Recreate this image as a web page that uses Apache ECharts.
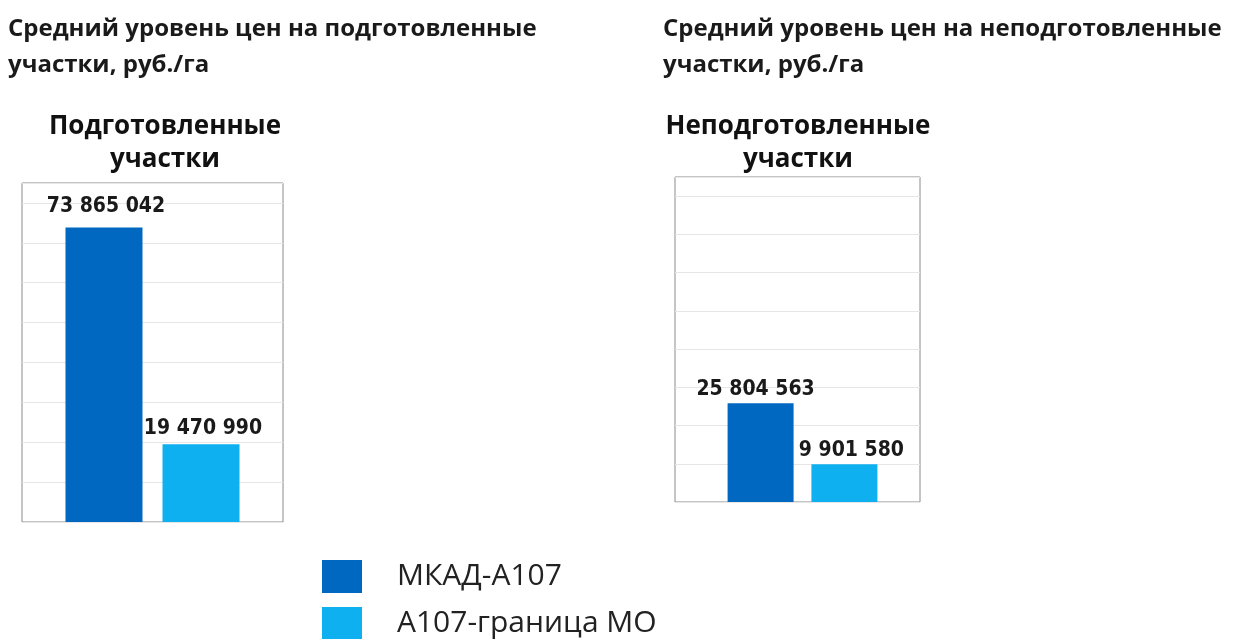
<!DOCTYPE html>
<html>
<head>
<meta charset="utf-8">
<script src="https://cdn.jsdelivr.net/npm/echarts@6/dist/echarts.min.js"></script>
<style>
html,body{margin:0;padding:0;background:#fff;}
#chart{width:1242px;height:639px;}
</style>
</head>
<body>
<div id="chart"></div>
<script>
// ---- data ----
const titleLeft = 'Средний уровень цен на подготовленные\nучастки, руб./га';
const titleRight = 'Средний уровень цен на неподготовленные\nучастки, руб./га';
const panelNames = ['Подготовленные\nучастки', 'Неподготовленные\nучастки'];
const seriesNames = ['МКАД-А107', 'А107-граница МО'];
const prepared = [73865042, 19470990];      // [МКАД-А107, А107-граница МО]
const unprepared = [25804563, 9901580];     // [МКАД-А107, А107-граница МО]
const axisMax = 85000000;
const axisStep = 10000000;

const colors = ['#0068c0', '#0fb0f0'];
const fmt = v => String(Math.round(v)).replace(/\B(?=(\d{3})+(?!\d))/g, ' ');

const chart = echarts.init(document.getElementById('chart'));
const labelFont = {
  show: true, position: 'top', distance: 5,
  fontFamily: '"DejaVu Sans Condensed", sans-serif',
  fontWeight: 'bold', fontSize: 21, color: '#1a1a1a',
  formatter: p => fmt(p.value)
};
function yAx(i, grid) {
  return {
    gridIndex: i, type: 'value', min: 0, max: axisMax, interval: axisStep,
    axisLabel: {show: false}, axisLine: {show: false}, axisTick: {show: false},
    splitLine: {show: grid, lineStyle: {color: '#e6e6e6', width: 1}}
  };
}
function xAx(i) {
  return {
    gridIndex: i, type: 'category', data: [''],
    axisLabel: {show: false}, axisLine: {show: false}, axisTick: {show: false}
  };
}
const sets = [prepared, unprepared];
const barW = [77, 66];
const gaps = ['26%', '27%'];
const labelTweaks = [
  [{distance: 10, offset: [2, 0]}, {distance: 5, offset: [2, 0]}],
  [{distance: 3, offset: [-5, 0]}, {distance: 3, offset: [7, 0]}]
];
const series = [];
sets.forEach((vals, gi) => {
  vals.forEach((v, si) => {
    series.push({
      type: 'bar', name: seriesNames[si], xAxisIndex: gi, yAxisIndex: gi,
      data: [v], barWidth: barW[gi], barGap: gaps[gi],
      itemStyle: {color: colors[si]},
      label: Object.assign({}, labelFont, labelTweaks[gi][si])
    });
  });
});

const bigTitle = {
  fontFamily: '"Open Sans", sans-serif', fontWeight: 'bold', fontSize: 24,
  color: '#1a1a1a', lineHeight: 36
};
const subTitle = {
  fontFamily: '"Open Sans", sans-serif', fontWeight: 'bold', fontSize: 26,
  color: '#111', lineHeight: 33
};
const legendText = {fontFamily: '"Open Sans", sans-serif', fontSize: 30, color: '#222', padding: [0, 0, 0, 30]};

chart.setOption({
  animation: false,
  backgroundColor: '#fff',
  title: [
    {text: titleLeft, left: 8, top: 11, padding: 0, textStyle: bigTitle},
    {text: titleRight, left: 663, top: 11, padding: 0, textStyle: bigTitle},
    {text: panelNames[0], left: 165, top: 110, padding: 0, textAlign: 'center',
     textStyle: Object.assign({}, subTitle, {align: 'center'})},
    {text: panelNames[1], left: 798, top: 110, padding: 0, textAlign: 'center',
     textStyle: Object.assign({}, subTitle, {align: 'center'})}
  ],
  legend: [
    {left: 322, top: 560, padding: 0, itemWidth: 40, itemHeight: 33, icon: 'rect',
     data: [seriesNames[0]], textStyle: legendText},
    {left: 322, top: 607, padding: 0, itemWidth: 40, itemHeight: 33, icon: 'rect',
     data: [seriesNames[1]], textStyle: legendText}
  ],
  grid: [
    {left: 22, top: 183, width: 261, height: 339, show: true, borderColor: '#8a8a8a', borderWidth: 1},
    {left: 680, top: 177, width: 245, height: 325, show: false},
    {left: 675, top: 177, width: 245, height: 325, show: true, borderColor: '#8a8a8a', borderWidth: 1, z: 0}
  ],
  xAxis: [xAx(0), xAx(1), xAx(2)],
  yAxis: [yAx(0, true), yAx(1, false), yAx(2, true)],
  series: series
});
</script>
</body>
</html>
